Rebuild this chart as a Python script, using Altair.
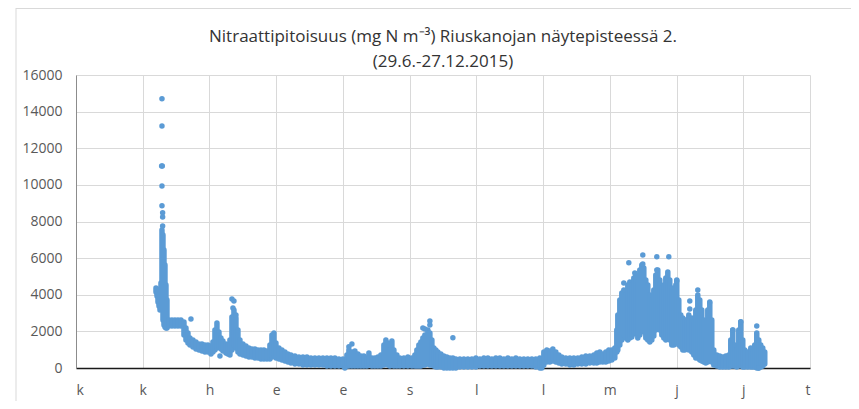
import altair as alt
import pandas as pd

# ---- data (days since 29.6.2015, nitrate mg N m-3) ----
band_day = [0.0, 0.3, 0.6, 0.9, 1.2, 1.5, 1.8, 2.1, 2.4, 2.7, 3.0, 3.3, 3.9, 4.8, 5.7, 6.6, 7.5,
            8.4, 9.0, 9.6, 10.2, 11.1, 12.0, 12.9, 13.8, 14.7, 15.6, 16.5, 17.1, 17.7, 18.3, 18.9,
            19.5, 20.1, 21.0, 21.6, 22.2, 22.8, 23.4, 24.0, 24.6, 25.2, 26.1, 27.0, 27.9, 28.8,
            29.7, 30.6, 31.5, 32.4, 33.3, 34.2, 34.8, 35.4, 36.0, 36.9, 37.8, 38.7, 39.6, 40.5,
            41.7, 42.9, 44.1, 45.3, 46.5, 47.7, 48.9, 50.1, 51.3, 52.5, 53.7, 54.9, 56.1, 57.3,
            57.9, 58.8, 59.7, 60.6, 61.5, 62.4, 63.3, 63.9, 64.8, 65.7, 66.6, 67.5, 68.4, 69.0,
            69.6, 70.2, 70.8, 71.4, 72.3, 73.2, 74.4, 75.6, 76.8, 77.7, 78.3, 78.9, 79.5, 80.1,
            80.7, 81.6, 82.2, 82.8, 83.4, 84.0, 84.6, 85.5, 86.4, 87.3, 88.2, 89.1, 90.0, 91.2,
            92.4, 93.6, 94.8, 96.0, 97.2, 98.4, 99.6, 100.8, 102.0, 103.2, 104.4, 105.6, 106.8,
            108.0, 109.2, 110.4, 111.6, 112.8, 114.0, 115.2, 115.8, 116.4, 117.3, 118.2, 119.1,
            120.0, 120.9, 121.8, 123.0, 124.2, 125.4, 126.6, 127.8, 129.0, 130.2, 131.4, 132.3,
            133.2, 134.1, 135.0, 135.9, 136.8, 137.7, 138.3, 138.6, 139.2, 139.8, 140.4, 141.0,
            141.6, 142.2, 142.8, 143.4, 144.0, 144.6, 145.2, 145.8, 146.4, 147.0, 147.6, 148.2,
            148.8, 149.4, 150.0, 150.6, 151.2, 151.8, 152.4, 153.0, 153.6, 154.2, 154.8, 155.4,
            156.0, 156.3, 156.9, 157.5, 158.1, 158.7, 159.3, 159.9, 160.8, 161.4, 162.0, 162.6,
            163.2, 163.8, 164.4, 165.0, 165.6, 166.2, 166.8, 167.4, 168.3, 169.2, 170.1, 171.0,
            171.9, 172.5, 173.1, 173.7, 174.3, 174.9, 175.5, 176.1, 176.7, 177.6, 178.5, 179.1,
            179.7, 180.3, 180.9, 181.5, 182.1, 182.7]
band_lo = [4150, 3930, 3600, 3390, 3170, 3280, 3710, 2620, 2350, 2240, 2180, 2180, 2290, 2290, 2290, 2290, 2290,
           1800, 1530, 1370, 1260, 1150, 1040, 980, 930, 870, 870, 760, 870, 980, 1090, 1150,
           1040, 930, 820, 760, 710, 980, 1260, 1090, 870, 760, 710, 660, 600, 600,
           550, 550, 490, 490, 490, 490, 600, 710, 550, 490, 440, 380, 330, 270,
           220, 220, 160, 160, 160, 160, 160, 160, 110, 110, 110, 110, 110, 110,
           110, 110, 110, 110, 110, 110, 110, 160, 110, 110, 110, 110, 160, 220,
           160, 110, 160, 110, 110, 110, 110, 110, 110, 110, 110, 110, 110, 160,
           160, 220, 160, 160, 110, 50, 50, 50, 0, 0, 0, 0, 0, 50,
           50, 50, 50, 50, 110, 110, 110, 110, 110, 110, 110, 110, 110,
           110, 110, 110, 110, 110, 50, 0, 0, 160, 330, 330, 380,
           330, 270, 220, 220, 160, 160, 220, 220, 220, 270, 270, 270,
           330, 330, 330, 380, 440, 550, 870, 980, 1260, 1530, 1800, 1640,
           1530, 1640, 1690, 1860, 1910, 1640, 1800, 2070, 1970, 1640, 1530, 1420,
           1530, 1750, 2070, 2180, 2070, 1800, 1640, 1530, 1640, 1530, 1260, 1260,
           1370, 1420, 1260, 1150, 980, 980, 1090, 980, 870, 710, 550, 550,
           440, 380, 330, 270, 330, 440, 330, 160, 110, 50, 50, 50,
           50, 110, 110, 110, 50, 110, 160, 50, 50, 50, 50, 50,
           50, 0, 0, 50, 110, 220]
band_hi = [4370, 4310, 4150, 3990, 3820, 4640, 7530, 7260, 6440, 5620, 4530, 3710, 2620, 2620, 2620, 2620, 2620,
           2510, 2180, 1910, 1640, 1530, 1420, 1310, 1310, 1260, 1260, 1200, 1420, 2070, 2460, 1970,
           1640, 1470, 1310, 1260, 1530, 2780, 3170, 2730, 2070, 1530, 1310, 1200, 1090, 1040,
           1040, 980, 980, 980, 930, 1260, 1800, 1910, 1370, 1090, 980, 870, 760, 710,
           660, 600, 600, 600, 550, 550, 550, 550, 550, 550, 550, 490, 490, 710,
           980, 870, 930, 760, 660, 660, 550, 820, 550, 550, 600, 710, 1260, 1530,
           1370, 980, 1470, 980, 710, 550, 550, 600, 550, 710, 980, 1260, 1420, 1640,
           1800, 2070, 1910, 1530, 1090, 980, 870, 760, 660, 600, 550, 550, 490, 490,
           490, 490, 490, 550, 490, 550, 550, 490, 550, 550, 490, 550, 490,
           550, 490, 490, 490, 490, 490, 550, 490, 870, 980, 930, 1040,
           870, 710, 600, 550, 550, 550, 550, 600, 660, 660, 710, 820,
           870, 760, 870, 980, 980, 1090, 2070, 2890, 3710, 4100, 4260, 3990,
           4530, 4700, 4530, 4910, 5080, 4700, 5350, 5620, 5460, 4800, 4530, 3990,
           3710, 4260, 5080, 5350, 4800, 4370, 4530, 4910, 5240, 4800, 4370, 4150,
           4530, 4800, 3710, 2890, 2730, 2620, 2620, 2890, 2730, 2510, 3170, 3990,
           3710, 3170, 2620, 1530, 3170, 3550, 2620, 980, 710, 660, 600, 660,
           710, 1530, 2070, 1260, 980, 2070, 2510, 1530, 980, 870, 1090, 870,
           1260, 1910, 1530, 1260, 1090, 870]

pt_day = [1.8, 1.8, 1.7, 1.9, 1.8, 1.8, 2.0, 2.0, 2.0, 10.5, 19.2, 22.8, 23.4, 23.1, 24.0,
          56.7, 57.9, 58.8, 80.1, 80.7, 82.2, 82.2, 89.1, 140.4, 141.9, 143.7, 146.1, 146.1,
          150.3, 150.3, 153.9, 156.3, 160.2, 160.2, 162.6, 166.2, 173.1, 175.5, 180.3, 180.9]
pt_val = [14700, 13210, 11030, 11030, 9940, 8860, 8480, 8250, 7750, 2680, 650, 3770, 3660, 3280, 2890,
          0, 1160, 1310, 2180, 2130, 2570, 2350, 1650, 4640, 5750, 5190, 6170, 5680,
          6080, 5350, 6080, 4770, 3660, 3220, 4260, 3600, 2070, 2530, 2290, 0]

x_labels = ["k", "k", "h", "e", "e", "s", "l", "l", "m", "j", "j", "t"]
y_ticks = [0, 2000, 4000, 6000, 8000, 10000, 12000, 14000, 16000]

title_lines = ["Nitraattipitoisuus (mg N m\u207b\u00b3) Riuskanojan näytepisteessä 2.",
               "(29.6.-27.12.2015)"]

# axis layout parameters (category axis positions in day units)
X0 = -24.0
XSTEP = 20.025
x_ticks = [X0 + XSTEP * i for i in range(len(x_labels))]
label_arr = "[" + ",".join("'%s'" % s for s in x_labels) + "]"
label_expr = label_arr + "[round((datum.value - (%s)) / %s)]" % (X0, XSTEP)

BLUE = "#5B9BD5"
FONT = "Open Sans"

band_df = pd.DataFrame({"day": band_day, "lo": band_lo, "hi": band_hi})
pt_df = pd.DataFrame({"day": pt_day, "val": pt_val})

x_scale = alt.Scale(domain=[x_ticks[0], x_ticks[-1]], nice=False, zero=False)
y_scale = alt.Scale(domain=[0, 16000], nice=False)

x_axis = alt.Axis(values=x_ticks, labelExpr=label_expr, title=None, ticks=False,
                  grid=True, gridColor="#D9D9D9", gridWidth=1,
                  domainColor="#1a1a1a", domainWidth=1.3,
                  labelFont=FONT, labelFontSize=14, labelColor="#595959",
                  labelPadding=15, labelOverlap=False)
y_axis = alt.Axis(values=y_ticks, format="d", title=None, ticks=False, grid=True,
                  gridColor="#D9D9D9", gridWidth=1, domainColor="#8C8C8C",
                  labelFont=FONT, labelFontSize=14, labelColor="#595959",
                  labelPadding=14, labelOverlap=False)

bands = alt.Chart(band_df).mark_rule(color=BLUE, strokeWidth=5.5, strokeCap="round").encode(
    x=alt.X("day:Q", scale=x_scale, axis=x_axis),
    y=alt.Y("lo:Q", scale=y_scale, axis=y_axis),
    y2="hi:Q",
)

pts = alt.Chart(pt_df).mark_circle(color=BLUE, size=30, opacity=1).encode(
    x=alt.X("day:Q", scale=x_scale, axis=x_axis),
    y=alt.Y("val:Q", scale=y_scale, axis=y_axis),
)

one = alt.Data(values=[{"a": 1}])
border_left = alt.Chart(one).mark_rule(color="#D9D9D9", strokeWidth=1).encode(
    x=alt.value(-60), y=alt.value(-67), y2=alt.value(340))
border_top = alt.Chart(one).mark_rule(color="#D9D9D9", strokeWidth=1).encode(
    x=alt.value(-60), x2=alt.value(800), y=alt.value(-66.5))

chart = alt.layer(border_left, border_top, bands, pts).properties(
    width=734, height=293,
    padding={"left": 68, "top": 67, "right": 41, "bottom": 33},
    autosize=alt.AutoSizeParams(type="none"),
    background="white",
    title=alt.TitleParams(text=title_lines, font=FONT, fontSize=17, fontWeight="normal",
                          color="#333333", anchor="middle", offset=0, dy=63, lineHeight=25),
).configure_view(stroke=None)

chart.save("out.html", embed_options={"renderer": "svg", "actions": False})
